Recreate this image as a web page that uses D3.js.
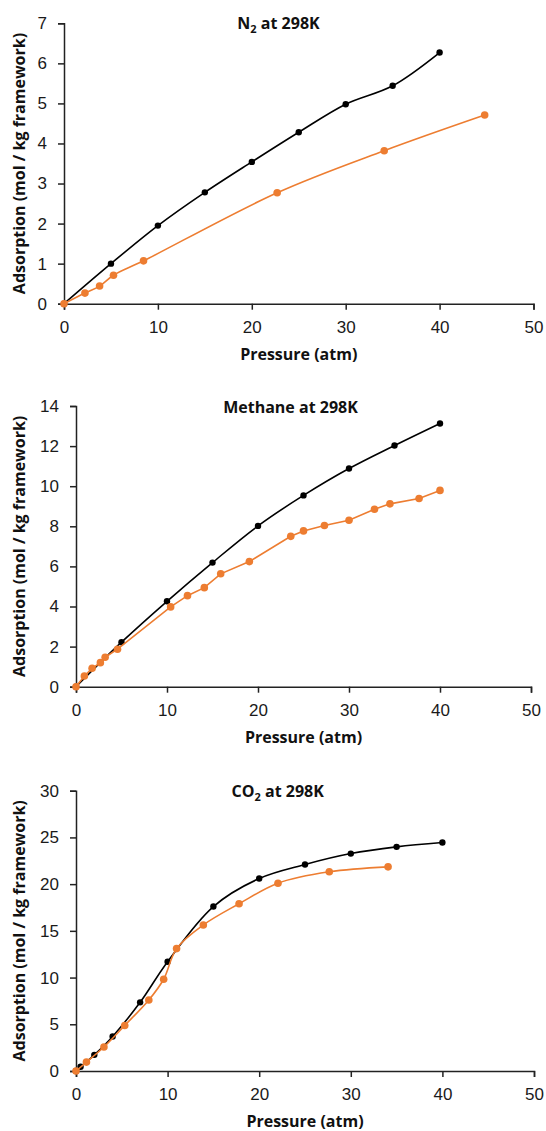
<!DOCTYPE html>
<html lang="en">
<head>
  <meta charset="utf-8">
  <title>Adsorption isotherms</title>
  <script src="https://cdn.jsdelivr.net/npm/d3@7/dist/d3.min.js"></script>
  <style>
    body { margin: 0; background: #fff; }
    svg { font-family: "Open Sans", sans-serif; }
    .axis path, .axis line { stroke: #222; stroke-width: 1.5px; }
    .axis text { font-size: 17px; fill: #1a1a1a; }
    .chartTitle { font-size: 16px; font-weight: bold; text-anchor: middle; fill: #111; }
    .axisTitle { font-size: 16px; font-weight: bold; text-anchor: middle; fill: #111; }
  </style>
</head>
<body>
<script>
  // ---- data ----
  const xTicks = [0, 10, 20, 30, 40, 50];

  // N2 at 298K
  const n2BlackP = [0, 5, 10, 15, 20, 25, 30, 35, 40];
  const n2BlackA = [0, 1.0, 1.95, 2.78, 3.54, 4.28, 4.98, 5.44, 6.27];
  const n2OrangeP = [0, 2.23, 3.79, 5.27, 8.47, 22.7, 34.1, 44.8];
  const n2OrangeA = [0, 0.265, 0.44, 0.71, 1.07, 2.77, 3.82, 4.71];
  const n2YTicks = [0, 1, 2, 3, 4, 5, 6, 7];

  // Methane at 298K
  const ch4BlackP = [0, 5, 10, 15, 20, 25, 30, 35, 40];
  const ch4BlackA = [0, 2.22, 4.26, 6.19, 8.02, 9.54, 10.88, 12.03, 13.13];
  const ch4OrangeP = [0, 0.92, 1.77, 2.68, 3.2, 4.56, 10.4, 12.25, 14.1, 15.9, 19.05, 23.6, 25, 27.3, 30, 32.8, 34.5, 37.7, 40];
  const ch4OrangeA = [0, 0.53, 0.92, 1.2, 1.47, 1.87, 3.98, 4.54, 4.94, 5.63, 6.24, 7.5, 7.77, 8.04, 8.3, 8.85, 9.12, 9.39, 9.79];
  const ch4YTicks = [0, 2, 4, 6, 8, 10, 12, 14];

  // CO2 at 298K
  const co2BlackP = [0, 0.5, 2, 4, 7, 10, 15, 20, 25, 30, 35, 40];
  const co2BlackA = [0, 0.45, 1.73, 3.7, 7.35, 11.7, 17.6, 20.6, 22.1, 23.27, 23.99, 24.45];
  const co2OrangeP = [0, 1.14, 3.05, 5.32, 7.95, 9.57, 10.98, 13.9, 17.8, 22.05, 27.65, 34.07];
  const co2OrangeA = [0, 0.95, 2.57, 4.87, 7.6, 9.82, 13.1, 15.63, 17.9, 20.1, 21.32, 21.85];
  const co2YTicks = [0, 5, 10, 15, 20, 25, 30];

  const black = "#000", orange = "#ED7D31";
  const width = 546, height = 1131;
  const intFormat = d3.format("d");

  const svg = d3.select("body").append("svg")
    .attr("width", width).attr("height", height);

  function zip(xs, ys) { return xs.map((x, i) => ({ x: x, y: ys[i] })); }

  // one panel
  function drawPanel(cfg) {
    const g = svg.append("g");
    const xScale = d3.scaleLinear().domain([0, 50]).range([cfg.x0, cfg.x1]);
    const yScale = d3.scaleLinear().domain([0, d3.max(cfg.yTicks)]).range([cfg.y0, cfg.y1]);

    g.append("g").attr("class", "axis")
      .attr("transform", `translate(0,${cfg.y0})`)
      .call(d3.axisBottom(xScale).tickValues(xTicks).tickFormat(intFormat)
        .tickSizeOuter(6).tickSize(6).tickPadding(11));
    g.append("g").attr("class", "axis")
      .attr("transform", `translate(${cfg.x0},0)`)
      .call(d3.axisLeft(yScale).tickValues(cfg.yTicks).tickFormat(intFormat)
        .tickSizeOuter(6).tickSize(6).tickPadding(11));

    const line = d3.line().x(d => xScale(d.x)).y(d => yScale(d.y));

    cfg.series.forEach(s => {
      const pts = zip(s.p, s.a);
      g.append("path")
        .attr("d", line.curve(s.smooth ? d3.curveCatmullRom.alpha(0.5) : d3.curveLinear)(pts))
        .attr("fill", "none").attr("stroke", s.color).attr("stroke-width", 1.6);
      g.selectAll(null).data(pts).enter().append("circle")
        .attr("cx", d => xScale(d.x)).attr("cy", d => yScale(d.y))
        .attr("r", s.r).attr("fill", s.color);
    });

    // title with subscript
    const t = g.append("text").attr("class", "chartTitle")
      .attr("x", cfg.titleX).attr("y", cfg.titleY);
    t.append("tspan").text(cfg.title[0]);
    if (cfg.title.length > 1) {
      t.append("tspan").text(cfg.title[1]).attr("font-size", "11px").attr("dy", 4);
      t.append("tspan").text(cfg.title[2]).attr("dy", -4);
    }

    g.append("text").attr("class", "axisTitle")
      .attr("x", (cfg.x0 + cfg.x1) / 2).attr("y", cfg.y0 + 56)
      .text("Pressure (atm)");
    g.append("text").attr("class", "axisTitle")
      .attr("transform", `translate(25,${(cfg.y0 + cfg.y1) / 2}) rotate(-90)`)
      .text("Adsorption (mol / kg framework)");
  }

  drawPanel({
    x0: 64, x1: 533.5, y0: 303.7, y1: 23.3, yTicks: n2YTicks,
    title: ["N", "2", " at 298K"], titleX: 278.5, titleY: 29,
    series: [
      { p: n2BlackP, a: n2BlackA, color: black, r: 3.2, smooth: true },
      { p: n2OrangeP, a: n2OrangeA, color: orange, r: 3.8, smooth: true }
    ]
  });

  drawPanel({
    x0: 76, x1: 531, y0: 686.7, y1: 406, yTicks: ch4YTicks,
    title: ["Methane at 298K"], titleX: 290.5, titleY: 413,
    series: [
      { p: ch4BlackP, a: ch4BlackA, color: black, r: 3.2, smooth: true },
      { p: ch4OrangeP, a: ch4OrangeA, color: orange, r: 3.8, smooth: false }
    ]
  });

  drawPanel({
    x0: 76, x1: 534, y0: 1071, y1: 790.7, yTicks: co2YTicks,
    title: ["CO", "2", " at 298K"], titleX: 277.7, titleY: 797,
    series: [
      { p: co2BlackP, a: co2BlackA, color: black, r: 3.2, smooth: true },
      { p: co2OrangeP, a: co2OrangeA, color: orange, r: 3.8, smooth: true }
    ]
  });
</script>
</body>
</html>
